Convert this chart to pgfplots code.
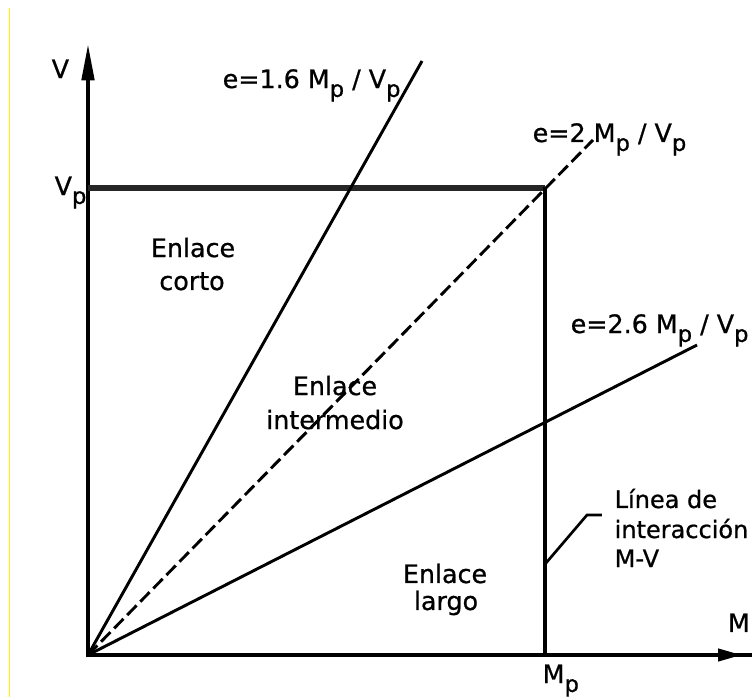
\documentclass[border=0pt]{standalone}
\usepackage{pgfplots}
\pgfplotsset{compat=1.18}
\usetikzlibrary{arrows.meta}
\usepackage{fontspec}
\setmainfont{DejaVu Sans}[FakeBold=0.8]
\newcommand{\lab}{\fontsize{19}{23}\selectfont}
\newcommand{\reg}{\fontsize{19}{23}\selectfont}
\newcommand{\sub}[1]{\raisebox{-0.35em}{\fontsize{17}{17}\selectfont #1}}
\begin{document}
\begin{tikzpicture}
\begin{axis}[
  width=564pt, height=522.75pt, scale only axis, hide axis,
  xmin=-0.19256, xmax=1.45295, ymin=-0.08994, ymax=1.40257,
  clip=false,
  every axis plot/.append style={mark=none},
  every node/.style={inner sep=0pt, text=black}
]
% faint yellow scan edge
\addplot[color=yellow, line width=1pt] coordinates {(-0.1718,-0.0899) (-0.1718,1.3854)};
% axes
\addplot[line width=3.5pt, -{Triangle[length=28pt,width=9pt]}] coordinates {(0,-0.005) (0,1.3105)};
\addplot[line width=3pt, -{Triangle[length=18pt,width=9pt]}] coordinates {(-0.004,0) (1.4311,0)};
\addplot[line width=3pt] coordinates {(1.40,0) (1.4530,0)};
% interaction line
\addplot[color=black!85, line width=3.8pt] coordinates {(0,1) (1,1)};
\addplot[line width=2.3pt] coordinates {(1,0) (1,1.003)};
% rays e = 1.6, 2, 2.6 Mp/Vp
\addplot[line width=2.2pt] coordinates {(0,0) (0.7309,1.2719)};
\addplot[line width=2.2pt, dash pattern=on 10pt off 4pt] coordinates {(0,0) (1.1050,1.1028)};
\addplot[line width=2.2pt] coordinates {(0,0) (1.3326,0.6638)};
% leader
\addplot[line width=2pt] coordinates {(1.0022,0.1970) (1.0919,0.2998) (1.1247,0.2998)};
% labels
\node[anchor=base west] at (axis cs:0.2845,1.2141) {\lab e=1.6 M\sub{p} / V\sub{p}};
\node[anchor=base west] at (axis cs:0.9628,1.0985) {\lab e=2 M\sub{p} / V\sub{p}};
\node[anchor=base west] at (axis cs:1.0460,0.6895) {\lab e=2.6 M\sub{p} / V\sub{p}};
\node[anchor=base west] at (axis cs:-0.0897,1.2355) {\lab V};
\node[anchor=base west] at (axis cs:-0.0832,0.9850) {\lab V\sub{p}};
\node[anchor=base west] at (axis cs:0.9847,-0.0600) {\lab M\sub{p}};
\node[anchor=base west] at (axis cs:1.3900,0.0493) {\lab M};
\node[anchor=base] at (axis cs:0.2298,0.8522) {\reg Enlace};
\node[anchor=base] at (axis cs:0.2276,0.7816) {\reg corto};
\node[anchor=base] at (axis cs:0.5405,0.5567) {\reg Enlace};
\node[anchor=base] at (axis cs:0.5405,0.4839) {\reg intermedio};
\node[anchor=base] at (axis cs:0.7812,0.1542) {\reg Enlace};
\node[anchor=base] at (axis cs:0.7834,0.0964) {\reg largo};
\node[anchor=base west] at (axis cs:1.1422,0.3148) {\fontsize{18}{20}\selectfont Línea de};
\node[anchor=base west] at (axis cs:1.1422,0.2505) {\fontsize{18}{20}\selectfont interacción};
\node[anchor=base west] at (axis cs:1.1422,0.1884) {\fontsize{18}{20}\selectfont M-V};
\end{axis}
\pgfresetboundingbox
\useasboundingbox (0,0) rectangle (564pt,522.75pt);
\end{tikzpicture}
\end{document}
